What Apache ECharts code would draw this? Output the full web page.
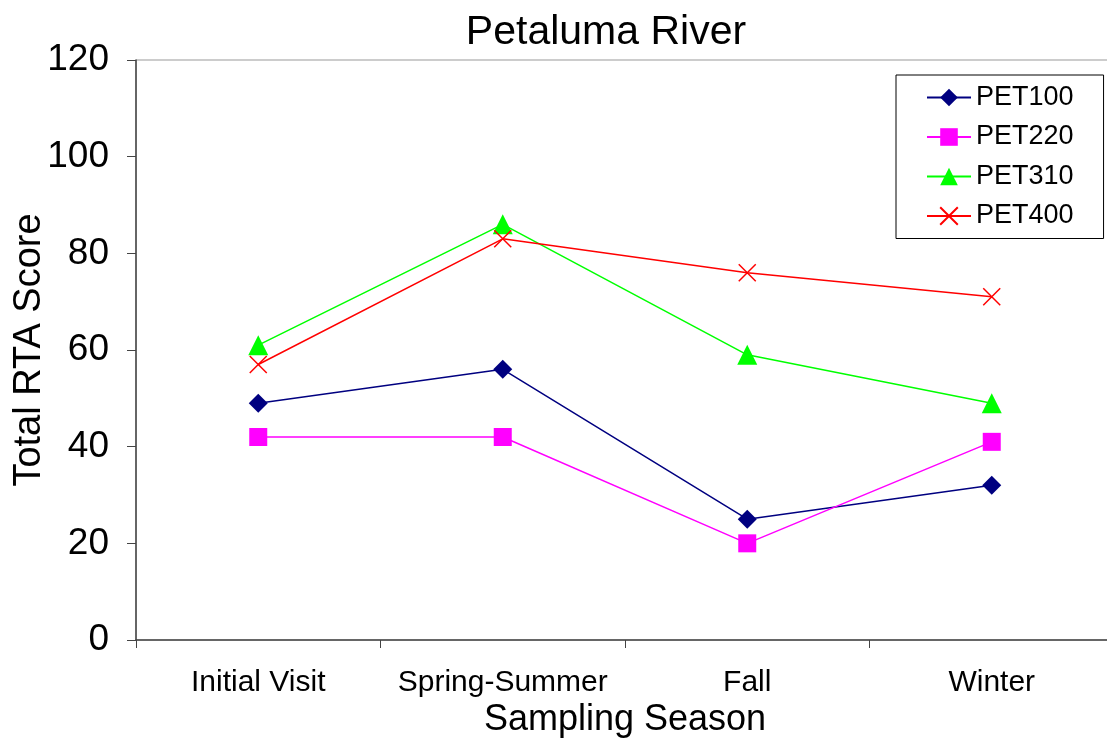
<!DOCTYPE html>
<html><head><meta charset="utf-8">
<script src="https://cdn.jsdelivr.net/npm/echarts@6/dist/echarts.min.js"></script>
<style>html,body{margin:0;padding:0;background:#fff}#c{width:1107px;height:740px}</style>
</head><body><div id="c"></div>
<script>
const categories = ['Initial Visit', 'Spring-Summer', 'Fall', 'Winter'];
const pet100 = [49, 56, 25, 32];
const pet220 = [42, 42, 20, 41];
const pet310 = [61, 86, 59, 49];
const pet400 = [57, 83, 76, 71];
const yTicks = [0, 20, 40, 60, 80, 100, 120];

const FONT = '"Liberation Sans", Arial, sans-serif';
const crossPath = 'path://M0,0L10,10M10,0L0,10';

function mk(name, data, color, symbol, size, extra) {
  return Object.assign({
    name, type: 'line', data, symbol, symbolSize: size,
    lineStyle: { color, width: 1.5 },
    itemStyle: { color },
    emphasis: { disabled: true },
    animation: false
  }, extra || {});
}

const chart = echarts.init(document.getElementById('c'), null, { renderer: 'canvas' });
chart.setOption({
  backgroundColor: '#fff',
  animation: false,
  title: {
    text: 'Petaluma River', left: 601, top: 7, textAlign: 'center',
    textStyle: { fontFamily: FONT, fontSize: 41, fontWeight: 'normal', color: '#000' }
  },
  legend: {
    orient: 'vertical', left: 896, top: 75, width: 206, height: 157,
    padding: [9, 30, 9, 30],
    backgroundColor: '#fff',
    borderColor: '#000', borderWidth: 1,
    itemWidth: 44, itemHeight: 22, itemGap: 12.5,
    textStyle: { fontFamily: FONT, fontSize: 27, color: '#000' },
    data: ['PET100', 'PET220', 'PET310', 'PET400']
  },
  grid: {
    left: 136, top: 60, width: 978, height: 580,
    outerBoundsMode: 'none', containLabel: false,
    show: true, borderColor: '#999', borderWidth: 1, backgroundColor: 'transparent'
  },
  xAxis: {
    type: 'category', data: categories, boundaryGap: true,
    name: 'Sampling Season', nameLocation: 'middle', nameGap: 62, nameMoveOverlap: false,
    nameTextStyle: { fontFamily: FONT, fontSize: 36, color: '#000' },
    axisLine: { lineStyle: { color: '#444', width: 1.5 } },
    axisTick: { show: true, interval: 0, length: 8, lineStyle: { color: '#444' } },
    axisLabel: { interval: 0, fontFamily: FONT, fontSize: 30, color: '#000', margin: 28 },
    splitLine: { show: false }
  },
  yAxis: {
    type: 'value', min: yTicks[0], max: yTicks[yTicks.length - 1], interval: 20,
    name: 'Total RTA Score', nameLocation: 'middle', nameGap: 87, nameRotate: 90,
    nameMoveOverlap: false,
    nameTextStyle: { fontFamily: FONT, fontSize: 38, color: '#000' },
    axisLine: { show: true, lineStyle: { color: '#444', width: 1.5 } },
    axisTick: { show: true, length: 9, lineStyle: { color: '#444' } },
    axisLabel: { fontFamily: FONT, fontSize: 37, color: '#000', margin: 27 },
    splitLine: { show: false }
  },
  series: [
    mk('PET100', pet100, '#000080', 'diamond', 19),
    mk('PET220', pet220, '#FF00FF', 'rect', 18),
    mk('PET310', pet310, '#00FF00', 'triangle', 20),
    mk('PET400', pet400, '#FF0000', crossPath, 17, {
      itemStyle: { color: '#FF0000', borderColor: '#FF0000', borderWidth: 1.5 }
    })
  ]
});
</script></body></html>
